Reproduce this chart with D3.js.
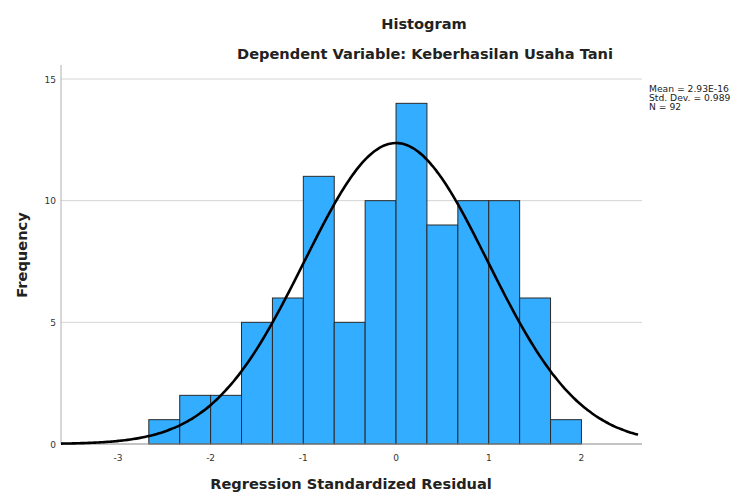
<!DOCTYPE html>
<html>
<head>
<meta charset="utf-8">
<script src="https://cdn.jsdelivr.net/npm/d3@7"></script>
<style>
  body { margin: 0; background: #fff; }
  text { font-family: "DejaVu Sans", sans-serif; }
</style>
</head>
<body>
<script>
// Données
const binStarts = [-2.6667, -2.3333, -2, -1.6667, -1.3333, -1, -0.6667, -0.3333, 0, 0.3333, 0.6667, 1, 1.3333, 1.6667]
const counts = [1, 2, 2, 5, 6, 11, 5, 10, 14, 9, 10, 10, 6, 1]
const binWidth = 1 / 3
const xTicks = [-3, -2, -1, 0, 1, 2]
const yTicks = [0, 5, 10, 15]
const stats = ['Mean = 2.93E-16', 'Std. Dev. = 0.989', 'N = 92']
const mean = 2.93e-16
const sd = 0.989
const n = 92

const svg = d3.select('body')
  .append('svg')
  .attr('width', 739)
  .attr('height', 492)

const mLeft = 61, mRight = 638, mTop = 65, mBottom = 444

const x = d3.scaleLinear().domain([-3.614, 2.61]).range([mLeft, mRight])
const y = d3.scaleLinear().domain([0, 15]).range([mBottom, 79])

// Titres
svg.append('text')
  .text('Histogram')
  .attr('x', 424).attr('y', 29)
  .attr('text-anchor', 'middle')
  .attr('font-size', 14.6).attr('font-weight', 'bold').attr('fill', '#222')

svg.append('text')
  .text('Dependent Variable: Keberhasilan Usaha Tani')
  .attr('x', 425).attr('y', 59)
  .attr('text-anchor', 'middle')
  .attr('font-size', 14.6).attr('font-weight', 'bold').attr('fill', '#222')

// Lignes de grille
svg.append('g')
  .selectAll('line')
  .data(yTicks.filter(d => d > 0))
  .enter()
  .append('line')
    .attr('x1', mLeft).attr('x2', mRight + 4)
    .attr('y1', d => y(d)).attr('y2', d => y(d))
    .attr('stroke', '#d4d4d4').attr('stroke-width', 1)

// Barres
svg.append('g')
  .selectAll('rect')
  .data(counts)
  .enter()
  .append('rect')
    .attr('x', (d, i) => x(binStarts[i]))
    .attr('y', d => y(d))
    .attr('width', (d, i) => x(binStarts[i] + binWidth) - x(binStarts[i]))
    .attr('height', d => y(0) - y(d))
    .attr('fill', '#33adff')
    .attr('stroke', '#2a2a2a')
    .attr('stroke-width', 1)

// Axes
svg.append('line')
  .attr('x1', mLeft).attr('x2', mLeft)
  .attr('y1', mTop).attr('y2', mBottom)
  .attr('stroke', '#b0b0b0')

svg.append('line')
  .attr('x1', mLeft).attr('x2', mRight + 4)
  .attr('y1', mBottom).attr('y2', mBottom)
  .attr('stroke', '#888')

svg.append('g')
  .selectAll('text')
  .data(yTicks)
  .enter()
  .append('text')
    .text(d => d)
    .attr('x', 56)
    .attr('y', d => y(d) + 3.5)
    .attr('text-anchor', 'end')
    .attr('font-size', 9).attr('fill', '#333')

svg.append('g')
  .selectAll('text')
  .data(xTicks)
  .enter()
  .append('text')
    .text(d => d < 0 ? '-' + Math.abs(d) : d)
    .attr('x', d => x(d))
    .attr('y', 461)
    .attr('text-anchor', 'middle')
    .attr('font-size', 9).attr('fill', '#333')

// Courbe normale
const pdf = v => n * binWidth * Math.exp(-0.5 * ((v - mean) / sd) ** 2) / (sd * Math.sqrt(2 * Math.PI))
const curvePts = d3.range(0, 201).map(i => -3.614 + i * (2.61 + 3.614) / 200)

svg.append('path')
  .datum(curvePts)
  .attr('d', d3.line().x(d => x(d)).y(d => y(pdf(d))).curve(d3.curveBasis))
  .attr('fill', 'none')
  .attr('stroke', '#000')
  .attr('stroke-width', 2.6)

// Titres des axes
svg.append('text')
  .text('Frequency')
  .attr('transform', 'translate(27, 255) rotate(-90)')
  .attr('text-anchor', 'middle')
  .attr('font-size', 14.6).attr('font-weight', 'bold').attr('fill', '#222')

svg.append('text')
  .text('Regression Standardized Residual')
  .attr('x', 351).attr('y', 489)
  .attr('text-anchor', 'middle')
  .attr('font-size', 14.6).attr('font-weight', 'bold').attr('fill', '#222')

// Légende statistique (police un peu étirée en largeur)
svg.append('g')
  .attr('transform', 'translate(649, 0) scale(1.15, 1)')
  .selectAll('text')
  .data(stats)
  .enter()
  .append('text')
    .text(d => d)
    .attr('x', 0)
    .attr('y', (d, i) => 92 + i * 9)
    .attr('font-size', 8).attr('fill', '#222')
</script>
</body>
</html>
